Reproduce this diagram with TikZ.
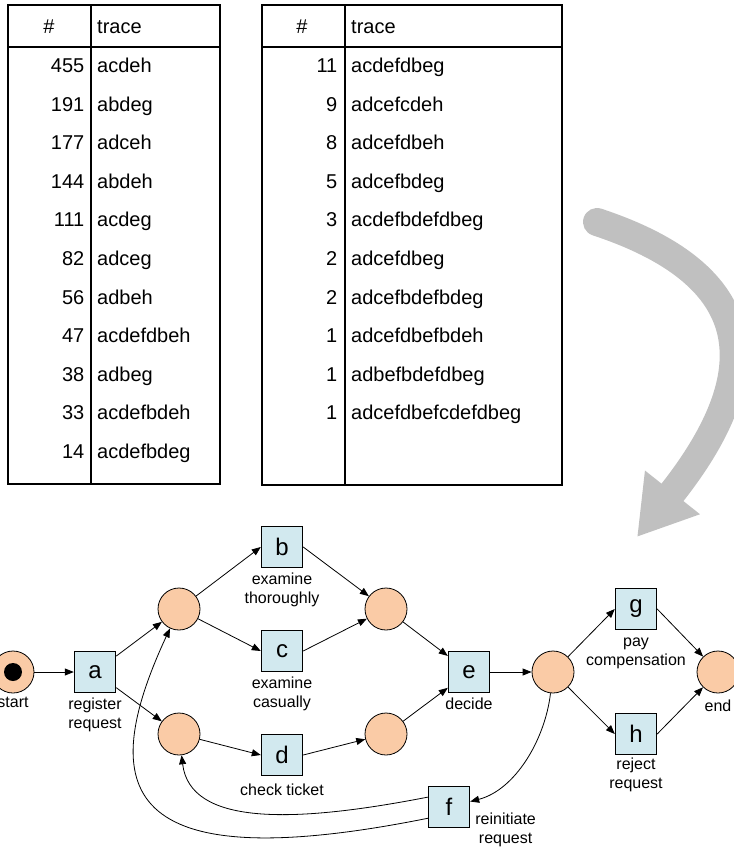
\documentclass[tikz,border=0pt]{standalone}
\usepackage{fontspec}
\setmainfont{Liberation Sans}
\usetikzlibrary{arrows.meta, positioning, calc}
\definecolor{placeFill}{HTML}{FACBA6}
\definecolor{transFill}{HTML}{D2E9EF}
\definecolor{bigGray}{HTML}{C0C0C0}

\begin{document}
\begin{tikzpicture}[
  x=1pt, y=-1pt,
  font=\fontsize{16}{19}\selectfont,
  grid/.style    ={draw=black, line width=1.8pt},
  head/.style    ={inner sep=0pt, font=\fontsize{20}{24}\selectfont},
  cnt/.style     ={head, anchor=base east},
  trc/.style     ={head, anchor=base west},
  place/.style   ={circle, draw, line width=0.8pt, fill=placeFill,
                   minimum size=42pt, inner sep=0pt},
  token/.style   ={circle, fill=black, minimum size=18pt, inner sep=0pt},
  trans/.style   ={rectangle, draw, line width=1.4pt, fill=transFill,
                   minimum size=41pt, inner sep=0pt, font=\fontsize{24}{28}\selectfont},
  lbl/.style     ={align=center, inner sep=1pt},
  arc/.style     ={-{Triangle[length=9pt,width=7pt]}, line width=0.8pt},
  bigarrow/.style={-{Triangle[length=57pt,width=66pt]}, draw=bigGray,
                   line width=28pt, line cap=round},
]
\useasboundingbox (0,0) rectangle (733,850);

% ----- Table 1: frequent traces -----
\draw[grid] (8,5) rectangle (220,484);
\draw[grid] (8,47) -- (220,47);
\draw[grid] (91,5) -- (91,484);
\node[head, anchor=base] (hashA) at (49,34) {\#};
\node[trc] (traceA) at (97,34) {trace};
\foreach \cnt/\trc [count=\i] in {455/acdeh, 191/abdeg, 177/adceh, 144/abdeh,
    111/acdeg, 82/adceg, 56/adbeh, 47/acdefdbeh, 38/adbeg, 33/acdefbdeh, 14/acdefbdeg}{
  \node[cnt] (cntA\i) at (84.5,{72.5+38.6*(\i-1)}) {\cnt};
  \node[trc] (trcA\i) at (97,{72.5+38.6*(\i-1)}) {\trc};
}

% ----- Table 2: rare traces -----
\draw[grid] (262,5) rectangle (562,485);
\draw[grid] (262,47) -- (562,47);
\draw[grid] (345,5) -- (345,485);
\node[head, anchor=base] (hashB) at (302,34) {\#};
\node[trc] (traceB) at (351,34) {trace};
\foreach \cnt/\trc [count=\i] in {11/acdefdbeg, 9/adcefcdeh, 8/adcefdbeh, 5/adcefbdeg,
    3/acdefbdefdbeg, 2/adcefdbeg, 2/adcefbdefbdeg, 1/adcefdbefbdeh, 1/adbefbdefdbeg,
    1/adcefdbefcdefdbeg}{
  \node[cnt] (cntB\i) at (337.5,{72.5+38.6*(\i-1)}) {\cnt};
  \node[trc] (trcB\i) at (351,{72.5+38.6*(\i-1)}) {\trc};
}

% ----- Big arrow: log to model -----
\coordinate (bendFrom) at (597,222);
\coordinate (bendTo)   at (637,537);
\draw[bigarrow] (bendFrom) .. controls (769,279) and (761,381) .. (bendTo);

% ----- Places -----
\node[place] (pStart) at (13,672) {};
\node[token] (tok) at (pStart.center) {};
\node[place] (p1) at (179,609) {};
\node[place] (p2) at (179,734) {};
\node[place] (p3) at (386,609) {};
\node[place] (p4) at (386,734) {};
\node[place] (p5) at (553,672) {};
\node[place] (pEnd) at (718,672) {};

% ----- Transitions -----
\node[trans] (a) at (95,672)  {a};
\node[trans] (b) at (282,547) {b};
\node[trans] (c) at (282,651) {c};
\node[trans] (d) at (282,755) {d};
\node[trans] (e) at (469,672) {e};
\node[trans] (f) at (449,807) {f};
\node[trans] (g) at (636,609) {g};
\node[trans] (h) at (636,734) {h};

% ----- Labels -----
\node[lbl, below=3pt of pStart] (startLbl) {start};
\node[lbl, below=3pt of a] (aLbl) {register\\request};
\node[lbl, below=3pt of b] (bLbl) {examine\\thoroughly};
\node[lbl, below=3pt of c] (cLbl) {examine\\casually};
\node[lbl, below=6pt of d] (dLbl) {check ticket};
\node[lbl, below=3pt of e] (eLbl) {decide};
\node[lbl, below=3pt of g] (gLbl) {\vphantom{d}pay\\compensation};
\node[lbl, below=1pt of h] (hLbl) {reject\\request};
\node[lbl, below=5pt of pEnd] (endLbl) {end};
\node[lbl, anchor=west, xshift=4pt, yshift=-23pt] (fLbl) at (f.east) {reinitiate\\request};

% ----- Arcs -----
\draw[arc] (pStart) -- (a);
\draw[arc] (a) -- (p1);
\draw[arc] (a) -- (p2);
\draw[arc] (p1) -- (b.west);
\draw[arc] (p1) -- (c.west);
\draw[arc] (p2) -- (d.west);
\draw[arc] (b.east) -- (p3);
\draw[arc] (c.east) -- (p3);
\draw[arc] (d.east) -- (p4);
\draw[arc] (p3) -- (e);
\draw[arc] (p4) -- (e);
\draw[arc] (e) -- (p5);
\draw[arc] (p5) -- (g.west);
\draw[arc] (p5) -- (h.west);
\draw[arc] (g.east) -- (pEnd);
\draw[arc] (h.east) -- (pEnd);

% Loop back through f
\draw[arc] (p5) .. controls (545,740) and (515,790) .. (f);
\draw[arc] (f.155) .. controls (290,824) and (190,825) .. (p2);
\draw[arc] (f.208) .. controls (120,880) and (95,790) .. (p1);

\end{tikzpicture}
\end{document}
